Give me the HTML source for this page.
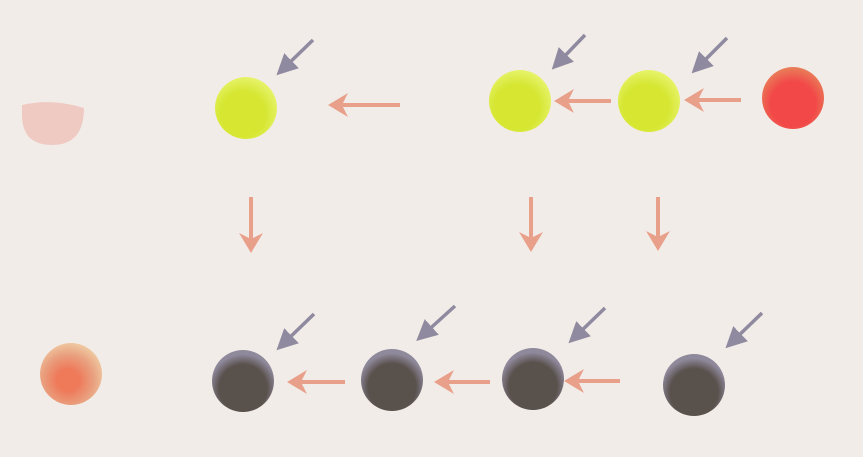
<!DOCTYPE html>
<html><head><meta charset="utf-8"><style>
html,body{margin:0;padding:0;background:#f2ece8;}
svg{display:block}
</style></head><body>
<svg width="863" height="457" viewBox="0 0 863 457">
<defs>
<radialGradient id="gy" cx="0.45" cy="0.6" r="0.6"><stop offset="0.6" stop-color="#d6e631"/><stop offset="1" stop-color="#e6f36a"/></radialGradient>
<radialGradient id="gd" cx="0.5" cy="0.62" r="0.55"><stop offset="0.7" stop-color="#59514c"/><stop offset="1" stop-color="#8f899c"/></radialGradient>
<radialGradient id="gr" cx="0.5" cy="0.6" r="0.6"><stop offset="0.6" stop-color="#f24848"/><stop offset="1" stop-color="#e8805a"/></radialGradient>
<radialGradient id="go" cx="0.45" cy="0.6" r="0.6"><stop offset="0.3" stop-color="#ee7a5a"/><stop offset="0.7" stop-color="#e9a180"/><stop offset="1" stop-color="#efc8a0"/></radialGradient>
<marker id="mp" markerWidth="6" markerHeight="6" refX="3" refY="3" orient="auto" markerUnits="strokeWidth"><path d="M0,0 L6,3 L0,6 Z" fill="#908aa0"/></marker>
<marker id="ms" markerWidth="5" markerHeight="6" refX="2" refY="3" orient="auto" markerUnits="strokeWidth"><path d="M0,0 L5,3 L0,6 L1.5,3 Z" fill="#e8a08a"/></marker>
</defs>
<path d="M22,105 Q52,98 84,108 Q84,145 52,145 Q22,145 22,115 Z" fill="#efcac3"/>
<circle cx="71" cy="374" r="31" fill="url(#go)"/>
<g>
<circle cx="246" cy="108" r="31" fill="url(#gy)"/>
<circle cx="520" cy="101" r="31" fill="url(#gy)"/>
<circle cx="649" cy="101" r="31" fill="url(#gy)"/>
</g>
<circle cx="793" cy="98" r="31" fill="url(#gr)"/>
<g>
<circle cx="243" cy="381" r="31" fill="url(#gd)"/>
<circle cx="392" cy="380" r="31" fill="url(#gd)"/>
<circle cx="533" cy="379" r="31" fill="url(#gd)"/>
<circle cx="694" cy="385" r="31" fill="url(#gd)"/>
</g>
<g stroke="#908aa0" stroke-width="3.5" marker-end="url(#mp)">
<line x1="313" y1="40" x2="284" y2="68"/>
<line x1="585" y1="35" x2="559" y2="62"/>
<line x1="727" y1="38" x2="699" y2="66"/>
<line x1="314" y1="314" x2="284" y2="343"/>
<line x1="455" y1="306" x2="424" y2="334"/>
<line x1="605" y1="308" x2="576" y2="336"/>
<line x1="762" y1="313" x2="733" y2="341"/>
</g>
<g stroke="#e8a08a" stroke-width="4" marker-end="url(#ms)">
<line x1="400" y1="105" x2="340" y2="105"/>
<line x1="611" y1="101" x2="566" y2="101"/>
<line x1="741" y1="100" x2="696" y2="100"/>
<line x1="345" y1="382" x2="299" y2="382"/>
<line x1="490" y1="382" x2="446" y2="382"/>
<line x1="620" y1="381" x2="576" y2="381"/>
<line x1="251" y1="197" x2="251" y2="241"/>
<line x1="531" y1="197" x2="531" y2="240"/>
<line x1="658" y1="197" x2="658" y2="239"/>
</g>
</svg>
</body></html>
